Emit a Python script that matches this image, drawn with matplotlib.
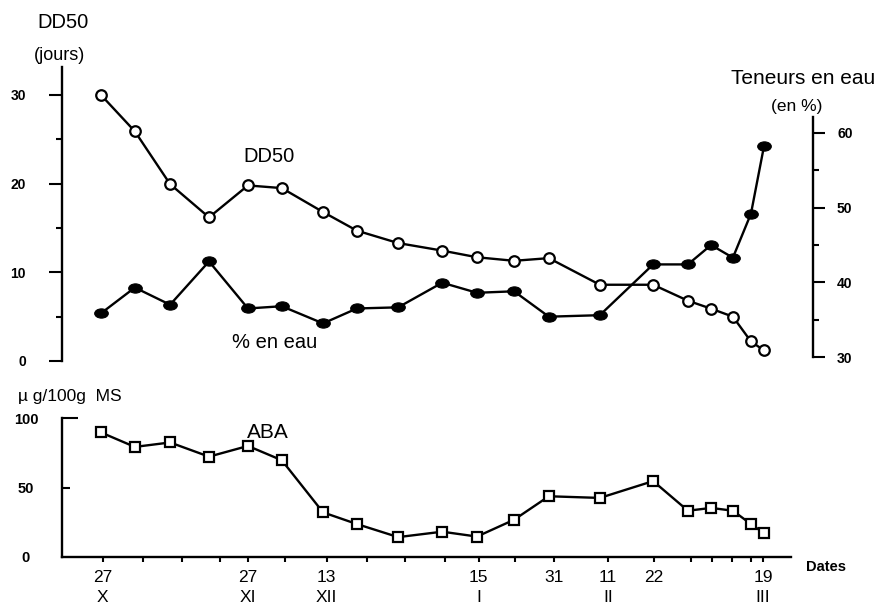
import matplotlib
matplotlib.use("Agg")
import matplotlib.pyplot as plt
from matplotlib.path import Path
from matplotlib.transforms import Affine2D

plt.rcParams['font.family'] = ['Liberation Sans', 'DejaVu Sans']

# ---- data (x = days after 27 October) ----
sample_day = [0, 7.3, 14.9, 23.3, 31.7, 39.0, 47.9, 55.2, 64.1, 73.6,
              81.1, 89.1, 96.6, 107.6, 119.1, 126.6, 131.6, 136.3, 140.2, 143.0]
dd50 = [30.0, 25.9, 19.95, 16.2, 19.8, 19.5, 16.8, 14.7, 13.3, 12.45,
        11.7, 11.3, 11.6, 8.6, 8.6, 6.8, 5.9, 5.0, 2.2, 1.2]
water = [35.85, 39.3, 37.0, 42.8, 36.5, 36.8, 34.5, 36.5, 36.65, 39.95,
         38.6, 38.8, 35.4, 35.6, 42.4, 42.4, 45.0, 43.3, 49.2, 58.2]
aba = [89.6, 79.2, 82.4, 72.2, 79.9, 69.6, 32.1, 23.7, 14.3, 18.2,
       14.7, 26.8, 43.7, 42.5, 54.6, 33.3, 35.3, 33.3, 23.7, 17.1]

tick_days = [0.4, 9.1, 17.5, 25.7, 31.7, 39.7, 48.7, 57.4, 65.6, 74.2,
             81.5, 89.3, 97.7, 109.4, 119.3, 127.3, 131.8, 136.1, 140.2, 142.8]
tick_labels = ['27\nX', '', '', '', '27\nXI', '', '13\nXII', '', '', '',
               '15\nI', '', '31', '11\nII', '22', '', '', '', '', '19\nIII']

W, H = 884, 607
def fx(px): return px / W
def fy(py): return 1 - py / H
PX0, PXD = 101.0, 4.636          # pixel of day 0, pixels per day
def px2day(px): return (px - PX0) / PXD
PT = 72 / 100.0                   # points per pixel

fig = plt.figure(figsize=(W / 100, H / 100), dpi=100)

# ---------------- top panel ----------------
ax1 = fig.add_axes([fx(62), fy(361), fx(813) - fx(62), (361 - 67) / H])
ax2 = ax1.twinx()
ax1.set_xlim(px2day(62), px2day(813))
ax1.set_ylim(0, (361 - 67) / 8.867)
ax2.set_ylim(30 - 4 / 7.467, 60 + 66 / 7.467)

ell = Affine2D().scale(1.0, 0.68).transform_path(Path.unit_circle())

ax1.plot(sample_day, dd50, color='black', lw=1.7, marker='o', ms=7.6,
         mfc='white', mec='black', mew=1.6, zorder=3)
ax2.plot(sample_day, water, color='black', lw=1.7, marker=ell, ms=9.8,
         mfc='black', mec='black', mew=0.8, zorder=3)

for s in ['top', 'bottom', 'right']:
    ax1.spines[s].set_visible(False)
for s in ['top', 'bottom', 'left']:
    ax2.spines[s].set_visible(False)
ax1.spines['left'].set_linewidth(1.7)
ax2.spines['right'].set_linewidth(1.7)
ax2.spines['right'].set_bounds(30, 60 + 16 / 7.467)
ax1.patch.set_visible(False)
ax2.patch.set_visible(False)

ax1.set_yticks([0, 10, 20, 30])
ax1.set_yticks([5, 15, 25], minor=True)
ax1.tick_params(axis='y', which='major', direction='out', length=13 * PT,
                width=1.5, pad=23 * PT, labelsize=10)
ax1.tick_params(axis='y', which='minor', direction='out', length=6 * PT, width=1.5)
ax2.set_yticks([30, 40, 50, 60])
ax2.set_yticks([35, 45, 55], minor=True)
ax2.tick_params(axis='y', which='major', direction='out', length=12 * PT,
                width=1.5, pad=12 * PT, labelsize=10)
ax2.tick_params(axis='y', which='minor', direction='out', length=6 * PT, width=1.5)
for a in (ax1, ax2):
    a.tick_params(axis='x', bottom=False, top=False, labelbottom=False)
    for lbl in a.get_yticklabels():
        lbl.set_fontweight('bold')

# ---------------- bottom panel ----------------
ax3 = fig.add_axes([fx(62), fy(557), fx(791) - fx(62), (557 - 418) / H])
ax3.set_xlim(px2day(62), px2day(791))
ax3.set_ylim(0, 100)
ax3.plot(sample_day, aba, color='black', lw=1.7, marker='s', ms=7.4,
         mfc='white', mec='black', mew=1.6, zorder=3)
for s in ['top', 'right']:
    ax3.spines[s].set_visible(False)
ax3.spines['left'].set_linewidth(1.7)
ax3.spines['bottom'].set_linewidth(1.7)

ax3.set_yticks([0, 50, 100])
ax3.tick_params(axis='y', direction='in', length=8 * PT, width=1.5,
                pad=36 * PT, labelsize=10.5)
for lbl in ax3.get_yticklabels():
    lbl.set_ha('center')
    lbl.set_fontweight('bold')
ax3.yaxis.get_major_ticks()[0].tick1line.set_visible(False)
ax3.yaxis.get_major_ticks()[2].tick1line.set_markersize(16 * PT)

ax3.set_xticks(tick_days)
ax3.set_xticklabels(tick_labels, linespacing=1.45)
ax3.tick_params(axis='x', direction='out', length=5 * PT, width=1.5,
                pad=8 * PT, labelsize=12.5)

# ---------------- texts ----------------
fig.text(fx(37), fy(23), 'DD50', fontsize=14.5, ha='left', va='center')
fig.text(fx(60), fy(55), '(jours)', fontsize=13, ha='center', va='center')
fig.text(fx(269), fy(157), 'DD50', fontsize=14.5, ha='center', va='center')
fig.text(fx(275), fy(343), '% en eau', fontsize=14.5, ha='center', va='center')
fig.text(fx(803), fy(78), 'Teneurs en eau', fontsize=15, ha='center', va='center')
fig.text(fx(797), fy(106), '(en %)', fontsize=12.5, ha='center', va='center')
fig.text(fx(18), fy(397), 'µ g/100g  MS', fontsize=12.5, ha='left', va='center')
fig.text(fx(268), fy(432), 'ABA', fontsize=15, ha='center', va='center')
fig.text(fx(826), fy(567), 'Dates', fontsize=10.5, fontweight='bold',
         ha='center', va='center')

fig.savefig('out.png', dpi=100)
